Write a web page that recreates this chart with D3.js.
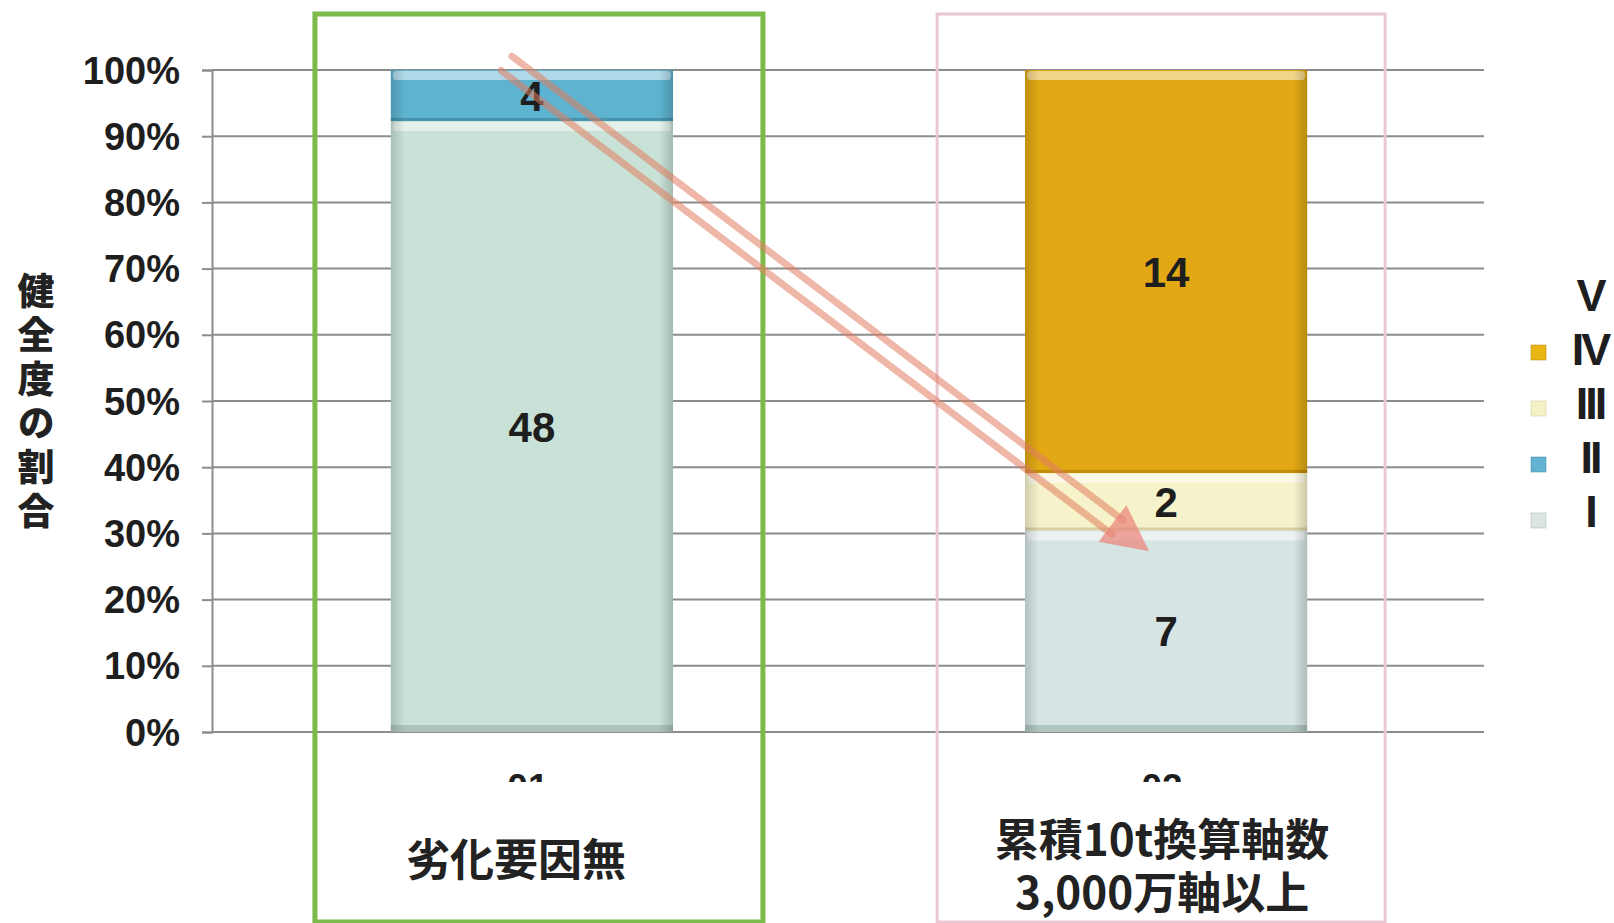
<!DOCTYPE html>
<html>
<head>
<meta charset="utf-8">
<script src="https://cdn.jsdelivr.net/npm/d3@7"></script>
<style>
  html, body { margin: 0; padding: 0; background: #fff; }
  svg { display: block; }
  .num { font-family: "Liberation Sans", Arial, sans-serif; font-weight: bold; fill: #1e1e1e; }
  .jp { font-family: "Noto Sans CJK JP", sans-serif; fill: #222; }
</style>
</head>
<body>
<div id="chart"></div>
<script>
// ── Data ────────────────────────────────────────────────────────────────────
const categories = ['01', '02'];
const categoryNames = [['劣化要因無'], ['累積10t換算軸数', '3,000万軸以上']];
const grades = ['I', 'II', 'III', 'IV', 'V'];          // stack order, bottom → top
const legendGrades = ['V', 'IV', 'III', 'II', 'I'];    // legend order, top → bottom
const countsI = [48, 7];
const countsII = [4, 0];
const countsIII = [0, 2];
const countsIV = [0, 14];
const countsV = [0, 0];
const yTickValues = [0, 0.1, 0.2, 0.3, 0.4, 0.5, 0.6, 0.7, 0.8, 0.9, 1.0];
const yTitle = '健全度の割合';
// arrow annotation: from top of bar 01 to bar 02 (band fraction, share)
const arrowFrom = { cat: '01', at: 0.41, v: 1.01 };
const arrowTo = { cat: '02', at: 0.44, v: 0.273 };

// ── Styles / layout ─────────────────────────────────────────────────────────
const COLORS = { I: '#c9e2d7', II: '#5eb3d0', III: '#f6f3cb', IV: '#e2a914', V: 'none' };
const COLORS2 = { I: '#d6e5e4' };        // second bar's grade I is a touch greyer
const EDGE = { I: '#9fb8b0', II: '#3e8ba6', III: '#cfc99a', IV: '#b98407' };
const MARKER = { I: '#dde4e4', II: '#63b2d2', III: '#f3f2c6', IV: '#e8b512' };
const W = 1614, H = 923;
const Y0 = 732, Y1 = 70;
const boxDx = [7, -5];          // annotation frame offsets from bar centres
const labelDx = [-16, -4];

const series = { I: countsI, II: countsII, III: countsIII, IV: countsIV, V: countsV };
const table = categories.map((c, i) => {
    const row = { cat: c };
    grades.forEach(g => { row[g] = series[g][i]; });
    return row;
});

const svg = d3.select('#chart').append('svg')
    .attr('width', W).attr('height', H);

const defs = svg.append('defs');
const sideGrad = defs.append('linearGradient').attr('id', 'side')
    .attr('x1', 0).attr('x2', 1).attr('y1', 0).attr('y2', 0);
[[0, 0.16], [0.05, 0], [0.95, 0], [1, 0.18]].forEach(([o, a]) =>
    sideGrad.append('stop').attr('offset', o).attr('stop-color', '#000').attr('stop-opacity', a));
defs.append('clipPath').attr('id', 'tickClip')
    .append('rect').attr('x', 0).attr('y', 0).attr('width', W).attr('height', 782);

const x = d3.scaleBand().domain(categories).range([212, 1486])
    .paddingInner(0.555).paddingOuter(0.282);
const y = d3.scaleLinear().domain([0, 1]).range([Y0, Y1]);

// ── Grid + axis ─────────────────────────────────────────────────────────────
svg.append('g')
    .attr('transform', 'translate(212,0)')
    .call(d3.axisLeft(y).tickValues(yTickValues).tickSize(10).tickFormat(''))
    .call(g => {
        g.select('.domain').attr('stroke', '#8c8c8c').attr('stroke-width', 2);
        g.selectAll('.tick line').attr('stroke', '#8c8c8c').attr('stroke-width', 2);
    });

svg.append('g').selectAll('line')
    .data(yTickValues)
    .join('line')
    .attr('x1', 212).attr('x2', 1484)
    .attr('y1', d => y(d)).attr('y2', d => y(d))
    .attr('stroke', '#8c8c8c').attr('stroke-width', 2);

svg.append('g').selectAll('text')
    .data(yTickValues)
    .join('text')
    .attr('class', 'num')
    .attr('x', 180).attr('y', d => y(d))
    .attr('dy', '0.36em')
    .attr('text-anchor', 'end')
    .attr('font-size', 38)
    .text(d3.format('.0%'));

svg.append('text')
    .attr('class', 'jp')
    .attr('x', 36).attr('y', 404)
    .attr('text-anchor', 'middle')
    .attr('font-size', 37)
    .attr('font-weight', 900)
    .attr('letter-spacing', 7)
    .style('writing-mode', 'vertical-rl')
    .style('text-orientation', 'upright')
    .text(yTitle);

// ── Stacked bars ────────────────────────────────────────────────────────────
const stack = d3.stack().keys(grades).offset(d3.stackOffsetExpand);
const layers = stack(table);

const segs = [];
layers.forEach(layer => {
    layer.forEach((d, i) => {
        const v = d.data[layer.key];
        if (v > 0) segs.push({ key: layer.key, cat: d.data.cat, i, y0: d[0], y1: d[1], v });
    });
});

const bars = svg.append('g');
bars.selectAll('rect.seg')
    .data(segs)
    .join('rect')
    .attr('class', 'seg')
    .attr('x', d => x(d.cat)).attr('width', x.bandwidth())
    .attr('y', d => y(d.y1)).attr('height', d => y(d.y0) - y(d.y1))
    .attr('fill', d => (d.i === 1 && COLORS2[d.key]) || COLORS[d.key]);

// top highlight and bottom edge of each segment
bars.selectAll('rect.hi')
    .data(segs)
    .join('rect')
    .attr('class', 'hi')
    .attr('x', d => x(d.cat) + 2).attr('width', x.bandwidth() - 4)
    .attr('y', d => y(d.y1) + 1).attr('height', 9)
    .attr('rx', 4)
    .attr('fill', '#fff').attr('opacity', 0.5);

bars.selectAll('rect.edge')
    .data(segs)
    .join('rect')
    .attr('class', 'edge')
    .attr('x', d => x(d.cat)).attr('width', x.bandwidth())
    .attr('y', d => y(d.y0) - (d.y0 === 0 ? 7 : 3)).attr('height', d => d.y0 === 0 ? 7 : 3)
    .attr('fill', d => EDGE[d.key]).attr('opacity', d => d.y0 === 0 ? 0.7 : 0.8);

bars.selectAll('rect.side')
    .data(categories)
    .join('rect')
    .attr('class', 'side')
    .attr('x', d => x(d)).attr('width', x.bandwidth())
    .attr('y', y(1)).attr('height', y(0) - y(1))
    .attr('fill', 'url(#side)');

bars.selectAll('text.val')
    .data(segs)
    .join('text')
    .attr('class', 'val num')
    .attr('x', d => x(d.cat) + x.bandwidth() / 2)
    .attr('y', d => y((d.y0 + d.y1) / 2))
    .attr('dy', '0.36em')
    .attr('text-anchor', 'middle')
    .attr('font-size', 42)
    .text(d => d.v);

// category tick labels, mostly hidden behind the name panels
svg.append('g').attr('clip-path', 'url(#tickClip)')
    .selectAll('text')
    .data(categories)
    .join('text')
    .attr('class', 'num')
    .attr('x', d => x(d) + x.bandwidth() / 2 - 4)
    .attr('y', 800)
    .attr('text-anchor', 'middle')
    .attr('font-size', 37)
    .text(d => d);

// category names
categories.forEach((c, i) => {
    const lines = categoryNames[i];
    const cx = x(c) + x.bandwidth() / 2 + labelDx[i];
    const top = lines.length === 1 ? 860 : 840;
    svg.append('text')
        .attr('class', 'jp')
        .attr('text-anchor', 'middle')
        .attr('font-size', 44)
        .attr('font-weight', 700)
        .selectAll('tspan')
        .data(lines)
        .join('tspan')
        .attr('x', cx)
        .attr('y', (d, k) => top + k * 53)
        .attr('dy', '0.36em')
        .text(d => d);
});

// frames round each group
const frameStyle = [{ stroke: '#7dba4c', w: 5 }, { stroke: '#e8c7d1', w: 3 }];
svg.append('g').selectAll('rect')
    .data(categories)
    .join('rect')
    .attr('x', (d, i) => x(d) + x.bandwidth() / 2 + boxDx[i] - 224)
    .attr('width', 448)
    .attr('y', 14).attr('height', 908)
    .attr('fill', 'none')
    .attr('stroke', (d, i) => frameStyle[i].stroke)
    .attr('stroke-width', (d, i) => frameStyle[i].w);

// ── Legend ──────────────────────────────────────────────────────────────────
const ly = d3.scalePoint().domain(legendGrades).range([295, 511]);
const my = d3.scalePoint().domain(legendGrades.slice(1)).range([353, 521]);
const legend = svg.append('g');
legend.selectAll('text')
    .data(legendGrades)
    .join('text')
    .attr('class', 'num')
    .attr('x', 1590).attr('y', d => ly(d))
    .attr('dy', '0.36em')
    .attr('text-anchor', 'middle')
    .attr('font-size', 45)
    .attr('letter-spacing', -3)
    .style('font-weight', 'bold')
    .text(d => d);
legend.selectAll('rect')
    .data(legendGrades.filter(g => COLORS[g] !== 'none'))
    .join('rect')
    .attr('x', 1531).attr('y', d => my(d) - 8)
    .attr('width', 15).attr('height', 15)
    .attr('fill', d => MARKER[d])
    .attr('stroke', d => EDGE[d]).attr('stroke-opacity', 0.5).attr('stroke-width', 1);

// ── Arrow annotation ────────────────────────────────────────────────────────
const ax0 = x(arrowFrom.cat) + x.bandwidth() * arrowFrom.at, ay0 = y(arrowFrom.v);
const ax1 = x(arrowTo.cat) + x.bandwidth() * arrowTo.at, ay1 = y(arrowTo.v);
const len = Math.hypot(ax1 - ax0, ay1 - ay0);
const ux = (ax1 - ax0) / len, uy = (ay1 - ay0) / len;
const px = -uy, py = ux;
const headLen = 46, headHalf = 23, gap = 9;
const bx = ax1 - ux * headLen, by = ay1 - uy * headLen;
const arrow = svg.append('g');
[-gap, gap].forEach(o => {
    arrow.append('line')
        .attr('x1', ax0 + px * o).attr('y1', ay0 + py * o)
        .attr('x2', bx + px * o + ux * 6).attr('y2', by + py * o + uy * 6)
        .attr('stroke', '#e07c5e').attr('stroke-opacity', 0.55)
        .attr('stroke-width', 7).attr('stroke-linecap', 'round');
});
arrow.append('path')
    .attr('d', d3.line()([
        [ax1, ay1],
        [bx + px * headHalf, by + py * headHalf],
        [bx - px * headHalf, by - py * headHalf]
    ]) + 'Z')
    .attr('fill', '#ea8478').attr('fill-opacity', 0.72);
</script>
</body>
</html>
